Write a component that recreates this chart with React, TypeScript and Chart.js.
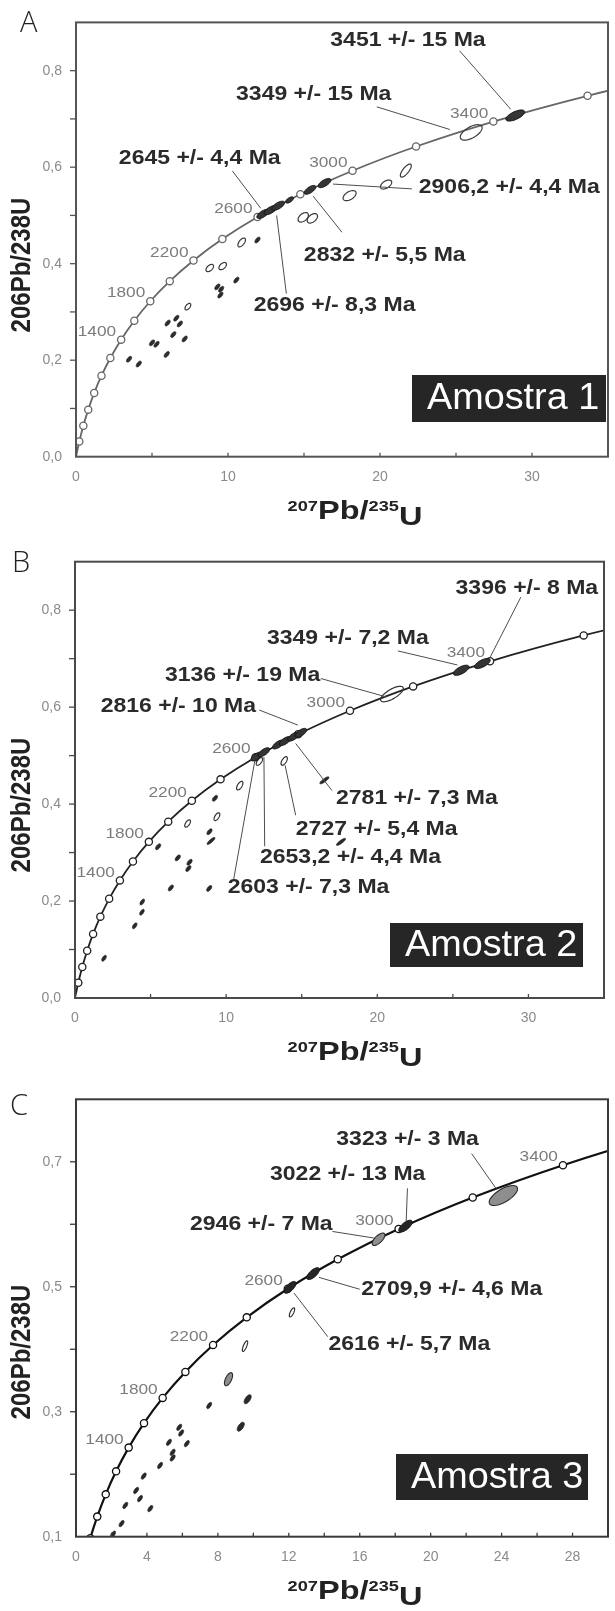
import React, { useEffect, useRef } from "react";
import { Chart, registerables } from "chart.js";

Chart.register(...registerables);

// [207Pb/235U, 206Pb/238U, uncertainty 207/235, uncertainty 206/238, error correlation]
type Ellipse = [number, number, number, number, number];
type XY = [number, number];

// ---------- Concordia reference (age markers every 200 Ma) ----------
const CONCORDIA_AGE_MA = [0, 200, 400, 600, 800, 1000, 1200, 1400, 1600, 1800, 2000, 2200, 2400, 2600, 2800, 3000, 3200, 3400, 3600, 3800];
const CONCORDIA_PB207_U235 = [0, 0.2177, 0.4828, 0.8057, 1.1988, 1.6774, 2.2601, 2.9701, 3.8344, 4.8869, 6.1685, 7.7292, 9.6296, 11.9437, 14.7617, 18.1931, 22.3716, 27.4597, 33.6556, 41.2004];
const CONCORDIA_PB206_U238 = [0, 0.03151, 0.06402, 0.09754, 0.13213, 0.1678, 0.2046, 0.24256, 0.28172, 0.3221, 0.36377, 0.40674, 0.45107, 0.49679, 0.54396, 0.59261, 0.6428, 0.69456, 0.74796, 0.80304];
const LABELLED_AGES_MA = [1400, 1800, 2200, 2600, 3000, 3400];

// ---------- Tick labels ----------
const AB_X_TICK_LABELS = [0, 10, 20, 30];
const AB_Y_TICK_LABELS = [0, 0.2, 0.4, 0.6, 0.8];
const C_X_TICK_LABELS = [0, 4, 8, 12, 16, 20, 24, 28];
const C_Y_TICK_LABELS = [0.1, 0.3, 0.5, 0.7];

// ---------- Amostra 1 ----------
const A_CONCORDANT: Ellipse[] = [
  [12.3, 0.503, 0.4, 0.0095, 0.65],
  [12.8, 0.511, 0.42, 0.0095, 0.65],
  [13.3, 0.52, 0.42, 0.0095, 0.65],
  [14.05, 0.532, 0.26, 0.0065, 0.6],
  [15.4, 0.553, 0.38, 0.0092, 0.65],
  [16.35, 0.567, 0.42, 0.0095, 0.65],
  [28.9, 0.707, 0.62, 0.0115, 0.65],
];
const A_OPEN: Ellipse[] = [
  [8.8, 0.391, 0.25, 0.0075, 0.5],
  [9.65, 0.395, 0.25, 0.0075, 0.5],
  [10.9, 0.444, 0.25, 0.0092, 0.6],
  [7.36, 0.311, 0.19, 0.0068, 0.55],
  [14.95, 0.496, 0.34, 0.0098, 0.46],
  [15.55, 0.494, 0.34, 0.0098, 0.46],
  [18.0, 0.541, 0.43, 0.0105, 0.5],
  [20.4, 0.564, 0.37, 0.0093, 0.5],
  [21.7, 0.593, 0.36, 0.0135, 0.75],
  [26.0, 0.672, 0.72, 0.016, 0.6],
];
const A_SMALL: Ellipse[] = [
  [3.49, 0.202, 0.17, 0.006, 0.6],
  [4.13, 0.192, 0.17, 0.006, 0.6],
  [5.0, 0.236, 0.17, 0.006, 0.6],
  [5.3, 0.233, 0.17, 0.006, 0.6],
  [5.97, 0.212, 0.17, 0.006, 0.6],
  [6.03, 0.277, 0.17, 0.006, 0.6],
  [6.6, 0.287, 0.17, 0.006, 0.6],
  [6.83, 0.275, 0.17, 0.006, 0.6],
  [6.4, 0.253, 0.17, 0.006, 0.6],
  [7.15, 0.244, 0.17, 0.006, 0.6],
  [9.3, 0.352, 0.17, 0.006, 0.6],
  [9.55, 0.347, 0.17, 0.006, 0.6],
  [9.5, 0.335, 0.17, 0.006, 0.6],
  [10.55, 0.366, 0.17, 0.006, 0.6],
  [11.94, 0.449, 0.17, 0.006, 0.6],
];
const A_AGE_TEXT = ["3451 +/- 15 Ma", "3349 +/- 15 Ma", "2645 +/- 4,4 Ma", "2906,2 +/- 4,4 Ma", "2832 +/- 5,5 Ma", "2696 +/- 8,3 Ma"];

// ---------- Amostra 2 ----------
const B_CONCORDANT: Ellipse[] = [
  [12.0, 0.498, 0.36, 0.009, 0.65],
  [12.5, 0.507, 0.38, 0.0092, 0.65],
  [13.45, 0.523, 0.38, 0.0092, 0.65],
  [13.9, 0.53, 0.38, 0.0092, 0.65],
  [14.45, 0.539, 0.38, 0.0092, 0.65],
  [14.95, 0.547, 0.38, 0.0092, 0.65],
  [25.55, 0.676, 0.52, 0.0105, 0.65],
  [26.95, 0.69, 0.52, 0.0105, 0.65],
];
const B_OPEN: Ellipse[] = [
  [20.97, 0.627, 0.75, 0.016, 0.72],
  [13.84, 0.489, 0.21, 0.0088, 0.6],
  [12.2, 0.488, 0.21, 0.008, 0.6],
  [10.9, 0.438, 0.21, 0.0088, 0.6],
  [9.39, 0.374, 0.19, 0.008, 0.6],
  [7.45, 0.36, 0.19, 0.0075, 0.6],
];
const B_SMALL: Ellipse[] = [
  [9.26, 0.412, 0.17, 0.006, 0.6],
  [8.9, 0.343, 0.17, 0.006, 0.6],
  [9.0, 0.324, 0.26, 0.0072, 0.85],
  [5.5, 0.312, 0.17, 0.006, 0.6],
  [6.8, 0.289, 0.17, 0.006, 0.6],
  [7.58, 0.28, 0.17, 0.006, 0.6],
  [7.5, 0.267, 0.17, 0.006, 0.6],
  [6.34, 0.227, 0.17, 0.006, 0.6],
  [8.88, 0.226, 0.17, 0.006, 0.6],
  [4.45, 0.198, 0.15, 0.006, 0.6],
  [4.43, 0.177, 0.15, 0.006, 0.6],
  [3.95, 0.149, 0.15, 0.006, 0.6],
  [1.92, 0.082, 0.15, 0.006, 0.6],
  [17.6, 0.322, 0.3, 0.0072, 0.85],
  [16.5, 0.449, 0.3, 0.0072, 0.85],
];
const B_AGE_TEXT = ["3396 +/- 8 Ma", "3349 +/- 7,2 Ma", "3136 +/- 19 Ma", "2816 +/- 10 Ma", "2781 +/- 7,3 Ma", "2727 +/- 5,4 Ma", "2653,2 +/- 4,4 Ma", "2603 +/- 7,3 Ma"];

// ---------- Amostra 3 ----------
const C_DARK: Ellipse[] = [
  [18.58, 0.597, 0.38, 0.0095, 0.68],
  [13.37, 0.521, 0.36, 0.0095, 0.68],
  [12.07, 0.499, 0.34, 0.0095, 0.68],
];
const C_GRAY: Ellipse[] = [
  [24.1, 0.646, 0.8, 0.016, 0.67],
  [17.06, 0.576, 0.36, 0.01, 0.68],
  [8.6, 0.352, 0.23, 0.0105, 0.6],
];
const C_OPEN: Ellipse[] = [
  [12.18, 0.459, 0.15, 0.0072, 0.7],
  [9.53, 0.405, 0.15, 0.0085, 0.75],
];
const C_SMALL: Ellipse[] = [
  [9.68, 0.32, 0.2, 0.0072, 0.6],
  [7.51, 0.31, 0.14, 0.005, 0.6],
  [9.29, 0.276, 0.2, 0.0072, 0.6],
  [5.82, 0.275, 0.14, 0.005, 0.6],
  [5.93, 0.266, 0.14, 0.005, 0.6],
  [5.24, 0.251, 0.14, 0.005, 0.6],
  [6.25, 0.249, 0.14, 0.005, 0.6],
  [5.45, 0.235, 0.14, 0.005, 0.6],
  [5.45, 0.226, 0.14, 0.005, 0.6],
  [4.74, 0.214, 0.14, 0.005, 0.6],
  [3.82, 0.197, 0.14, 0.005, 0.6],
  [3.39, 0.174, 0.14, 0.005, 0.6],
  [3.61, 0.161, 0.14, 0.005, 0.6],
  [2.78, 0.15, 0.14, 0.005, 0.6],
  [4.19, 0.145, 0.14, 0.005, 0.6],
  [2.57, 0.121, 0.14, 0.005, 0.6],
  [2.09, 0.104, 0.14, 0.005, 0.6],
];
const C_AGE_TEXT = ["3323 +/- 3 Ma", "3022 +/- 13 Ma", "2946 +/- 7 Ma", "2709,9 +/- 4,6 Ma", "2616 +/- 5,7 Ma"];

// ---------- Layout (positions are in data units so they go through the scales) ----------
interface LabelLayout { at: XY; from: XY; to: XY }
const A_LABEL_LAYOUT: LabelLayout[] = [
  { at: [16.73, 0.863], from: [25.24, 0.841], to: [28.6, 0.72] },
  { at: [10.53, 0.75], from: [19.79, 0.725], to: [24.6, 0.678] },
  { at: [2.82, 0.617], from: [10.29, 0.592], to: [12.15, 0.515] },
  { at: [22.55, 0.557], from: [16.9, 0.565], to: [22.1, 0.555] },
  { at: [14.99, 0.418], from: [17.5, 0.465], to: [15.6, 0.54] },
  { at: [11.69, 0.313], from: [13.84, 0.338], to: [13.2, 0.5] },
];
const B_LABEL_LAYOUT: LabelLayout[] = [
  { at: [25.18, 0.845], from: [29.5, 0.827], to: [27.42, 0.7] },
  { at: [12.7, 0.742], from: [21.36, 0.716], to: [25.3, 0.687] },
  { at: [5.95, 0.666], from: [16.27, 0.659], to: [20.6, 0.621] },
  { at: [1.7, 0.602], from: [12.19, 0.594], to: [14.74, 0.563] },
  { at: [17.27, 0.412], from: [17.0, 0.428], to: [14.6, 0.525] },
  { at: [14.61, 0.348], from: [14.6, 0.377], to: [13.9, 0.48] },
  { at: [12.24, 0.289], from: [12.55, 0.313], to: [12.5, 0.497] },
  { at: [10.1, 0.227], from: [10.5, 0.245], to: [11.9, 0.49] },
];
const C_LABEL_LAYOUT: LabelLayout[] = [
  { at: [14.68, 0.735], from: [22.31, 0.713], to: [23.68, 0.6575] },
  { at: [10.94, 0.679], from: [18.69, 0.6575], to: [18.62, 0.605] },
  { at: [6.43, 0.6], from: [14.46, 0.5885], to: [16.8, 0.578] },
  { at: [16.09, 0.496], from: [16.0, 0.496], to: [13.7, 0.515] },
  { at: [14.24, 0.407], from: [14.2, 0.42], to: [12.29, 0.49] },
];

const SANS = '"Liberation Sans", Arial, Helvetica, sans-serif';
const STRETCH = 1.15;

interface Group { data: Ellipse[]; fill: string | null; stroke: string; width: number }
interface PanelSpec {
  key: string;
  top: number; width: number; height: number;
  area: { left: number; top: number; right: number; bottom: number };
  x: { min: number; max: number; step: number };
  y: { min: number; max: number; step: number };
  xTicks: number[]; yTicks: number[];
  curveColor: string; curveWidth: number; frameColor: string;
  groups: Group[];
  texts: string[]; layout: LabelLayout[];
  sample: string; box: { x: number; y: number; w: number; h: number };
  letterPos: XY; yTitleCenter: XY;
}

const PANELS: PanelSpec[] = [
  {
    key: "A", top: 0, width: 620, height: 530,
    area: { left: 76, top: 18, right: 617.8, bottom: 456.7 },
    x: { min: 0, max: 35, step: 5 }, y: { min: 0, max: 0.9, step: 0.1 },
    xTicks: AB_X_TICK_LABELS, yTicks: AB_Y_TICK_LABELS,
    curveColor: "#666", curveWidth: 1.8, frameColor: "#555",
    groups: [
      { data: A_OPEN, fill: null, stroke: "#3a3a3a", width: 1.2 },
      { data: A_SMALL, fill: "#2e2e2e", stroke: "#222", width: 0.8 },
      { data: A_CONCORDANT, fill: "#353535", stroke: "#111", width: 1 },
    ],
    texts: A_AGE_TEXT, layout: A_LABEL_LAYOUT,
    sample: "Amostra 1", box: { x: 412, y: 375, w: 194, h: 47 },
    letterPos: [20, 32], yTitleCenter: [22, 265],
  },
  {
    key: "B", top: 530, width: 616, height: 540,
    area: { left: 75, top: 31.7, right: 614, bottom: 468 },
    x: { min: 0, max: 35, step: 5 }, y: { min: 0, max: 0.9, step: 0.1 },
    xTicks: AB_X_TICK_LABELS, yTicks: AB_Y_TICK_LABELS,
    curveColor: "#222", curveWidth: 1.8, frameColor: "#4a4a4a",
    groups: [
      { data: B_OPEN, fill: null, stroke: "#333", width: 1.2 },
      { data: B_SMALL, fill: "#2a2a2a", stroke: "#222", width: 0.8 },
      { data: B_CONCORDANT, fill: "#333", stroke: "#111", width: 1 },
    ],
    texts: B_AGE_TEXT, layout: B_LABEL_LAYOUT,
    sample: "Amostra 2", box: { x: 390, y: 393, w: 193, h: 44 },
    letterPos: [12, 41.7], yTitleCenter: [22, 275],
  },
  {
    key: "C", top: 1070, width: 620, height: 541,
    area: { left: 76, top: 29.3, right: 618.1, bottom: 466.7 },
    x: { min: 0, max: 30, step: 2 }, y: { min: 0.1, max: 0.8, step: 0.1 },
    xTicks: C_X_TICK_LABELS, yTicks: C_Y_TICK_LABELS,
    curveColor: "#111", curveWidth: 2.2, frameColor: "#3a3a3a",
    groups: [
      { data: C_OPEN, fill: null, stroke: "#333", width: 1.2 },
      { data: C_SMALL, fill: "#2a2a2a", stroke: "#222", width: 0.8 },
      { data: C_GRAY, fill: "#8e8e8e", stroke: "#2a2a2a", width: 1.1 },
      { data: C_DARK, fill: "#262626", stroke: "#111", width: 1 },
    ],
    texts: C_AGE_TEXT, layout: C_LABEL_LAYOUT,
    sample: "Amostra 3", box: { x: 396, y: 384, w: 192, h: 46 },
    letterPos: [10, 45], yTitleCenter: [22, 282],
  },
];

function stretchedText(ctx: CanvasRenderingContext2D, text: string, x: number, y: number, s: number, align: CanvasTextAlign) {
  ctx.save();
  ctx.translate(x, y);
  ctx.scale(s, 1);
  ctx.textAlign = align;
  ctx.fillText(text, 0, 0);
  ctx.restore();
}

function makeDecor(p: PanelSpec) {
  return {
    id: "decor" + p.key,
    afterDatasetsDraw(chart: any) {
      const ctx: CanvasRenderingContext2D = chart.ctx;
      const a = chart.chartArea;
      const xs = chart.scales.x;
      const ys = chart.scales.y;
      const X = (v: number) => xs.getPixelForValue(v);
      const Y = (v: number) => ys.getPixelForValue(v);

      ctx.save();
      ctx.beginPath();
      ctx.rect(a.left, a.top, a.right - a.left, a.bottom - a.top);
      ctx.clip();
      // error ellipses
      for (const g of p.groups) {
        for (const e of g.data) {
          const [cx, cy, sx, sy, rho] = e;
          const k = Math.sqrt(1 - rho * rho);
          ctx.beginPath();
          for (let i = 0; i <= 48; i++) {
            const t = (i / 48) * Math.PI * 2;
            const px = X(cx + sx * Math.cos(t));
            const py = Y(cy + sy * (rho * Math.cos(t) + k * Math.sin(t)));
            if (i === 0) ctx.moveTo(px, py);
            else ctx.lineTo(px, py);
          }
          ctx.closePath();
          if (g.fill) {
            ctx.fillStyle = g.fill;
            ctx.fill();
          }
          ctx.strokeStyle = g.stroke;
          ctx.lineWidth = g.width;
          ctx.stroke();
        }
      }
      // leader lines
      ctx.strokeStyle = "#4d4d4d";
      ctx.lineWidth = 1;
      for (const l of p.layout) {
        ctx.beginPath();
        ctx.moveTo(X(l.from[0]), Y(l.from[1]));
        ctx.lineTo(X(l.to[0]), Y(l.to[1]));
        ctx.stroke();
      }
      ctx.restore();

      // concordia age labels
      ctx.save();
      ctx.fillStyle = "#7c7c7c";
      ctx.font = `15px ${SANS}`;
      ctx.textBaseline = "middle";
      for (const age of LABELLED_AGES_MA) {
        const i = CONCORDIA_AGE_MA.indexOf(age);
        const px = X(CONCORDIA_PB207_U235[i]);
        const py = Y(CONCORDIA_PB206_U238[i]);
        stretchedText(ctx, String(age), px - 5, py - 8, STRETCH, "right");
      }
      // age annotations
      ctx.fillStyle = "#2b2b2b";
      ctx.font = `bold 20px ${SANS}`;
      p.texts.forEach((t, i) => {
        const l = p.layout[i];
        stretchedText(ctx, t, X(l.at[0]), Y(l.at[1]), STRETCH, "left");
      });
      // sample box
      ctx.fillStyle = "#262626";
      ctx.fillRect(p.box.x, p.box.y, p.box.w, p.box.h);
      ctx.fillStyle = "#ffffff";
      ctx.font = `36px ${SANS}`;
      ctx.textBaseline = "middle";
      stretchedText(ctx, p.sample, p.box.x + 15, p.box.y + p.box.h / 2 + 1, 1.05, "left");
      // frame & ticks
      ctx.strokeStyle = p.frameColor;
      ctx.lineWidth = 2;
      ctx.strokeRect(a.left, a.top, a.right - a.left, a.bottom - a.top);
      ctx.lineWidth = 1.3;
      for (const t of xs.ticks) {
        if (t.value <= p.x.min + 1e-9 || t.value >= p.x.max - 1e-9) continue;
        const px = X(t.value);
        ctx.beginPath();
        ctx.moveTo(px, a.bottom);
        ctx.lineTo(px, a.bottom - 4);
        ctx.stroke();
      }
      for (const t of ys.ticks) {
        if (t.value <= p.y.min + 1e-9 || t.value >= p.y.max - 1e-9) continue;
        const py = Y(t.value);
        ctx.beginPath();
        ctx.moveTo(a.left - 6, py);
        ctx.lineTo(a.left, py);
        ctx.stroke();
      }
      ctx.restore();
    },
    afterDraw(chart: any) {
      const ctx: CanvasRenderingContext2D = chart.ctx;
      const a = chart.chartArea;
      ctx.save();
      // panel letter
      ctx.fillStyle = "#222";
      ctx.font = `300 29px "Open Sans", ${SANS}`;
      ctx.textBaseline = "alphabetic";
      ctx.textAlign = "left";
      ctx.fillText(p.key, p.letterPos[0], p.letterPos[1]);
      // y title
      ctx.fillStyle = "#222";
      ctx.font = `bold 24px ${SANS}`;
      ctx.save();
      ctx.translate(p.yTitleCenter[0], p.yTitleCenter[1]);
      ctx.scale(STRETCH, 1);
      ctx.rotate(-Math.PI / 2);
      ctx.textAlign = "center";
      ctx.textBaseline = "middle";
      ctx.fillText("206Pb/238U", 0, 0);
      ctx.restore();
      // x title with raised mass numbers
      const base = a.bottom + 62;
      const s = 1.3;
      const parts = [
        { t: "207", font: `bold 14px ${SANS}`, dy: -7.9 },
        { t: "Pb/", font: `bold 25px ${SANS}`, dy: 0 },
        { t: "235", font: `bold 14px ${SANS}`, dy: -7.9 },
        { t: "U", font: `bold 25px ${SANS}`, dy: 6 },
      ];
      const widths = parts.map((q) => {
        ctx.font = q.font;
        return ctx.measureText(q.t).width * s;
      });
      const total = widths.reduce((m, w) => m + w, 0);
      let x = 355 - total / 2;
      ctx.textBaseline = "alphabetic";
      parts.forEach((q, i) => {
        ctx.font = q.font;
        stretchedText(ctx, q.t, x, base + q.dy, s, "left");
        x += widths[i];
      });
      ctx.restore();
    },
  };
}

function buildConfig(p: PanelSpec): any {
  const near = (list: number[], v: number) => list.some((t) => Math.abs(t - v) < 1e-6);
  const curve = CONCORDIA_PB207_U235.map((x, i) => ({ x, y: CONCORDIA_PB206_U238[i] }));
  const markers = curve.filter((_, i) => CONCORDIA_AGE_MA[i] > 0);
  const tickFont = { family: SANS, size: 14 };
  return {
    type: "scatter",
    data: {
      datasets: [
        {
          label: "ages", data: markers, order: 1, showLine: false,
          pointRadius: 3.6, pointBackgroundColor: "#ffffff", pointBorderColor: p.curveColor, pointBorderWidth: 1.3,
        },
        {
          label: "concordia", data: curve, order: 2, showLine: true, pointRadius: 0,
          borderColor: p.curveColor, borderWidth: p.curveWidth, cubicInterpolationMode: "monotone", fill: false,
        },
        ...p.groups.map((g, k) => ({
          label: "spots" + k, data: g.data.map((e) => ({ x: e[0], y: e[1] })), pointRadius: 0, showLine: false, order: 3,
        })),
      ],
    },
    options: {
      responsive: false,
      animation: false,
      events: [],
      layout: { padding: { left: 0, top: p.area.top, right: p.width - p.area.right, bottom: 0 } },
      plugins: { legend: { display: false }, tooltip: { enabled: false }, title: { display: false } },
      scales: {
        x: {
          type: "linear", position: "bottom", min: p.x.min, max: p.x.max,
          afterFit: (sc: any) => { sc.height = p.height - p.area.bottom; },
          grid: { display: false, drawTicks: false }, border: { display: false },
          ticks: {
            stepSize: p.x.step, autoSkip: false, maxRotation: 0, minRotation: 0, padding: 12,
            color: "#8a8a8a", font: tickFont,
            callback: (v: any) => (near(p.xTicks, Number(v)) ? String(Math.round(Number(v))) : ""),
          },
        },
        y: {
          type: "linear", position: "left", min: p.y.min, max: p.y.max,
          afterFit: (sc: any) => { sc.width = p.area.left; },
          grid: { display: false, drawTicks: false }, border: { display: false },
          ticks: {
            stepSize: p.y.step, autoSkip: false, padding: 14, color: "#8a8a8a", font: tickFont,
            callback: (v: any) => (near(p.yTicks, Number(v)) ? Number(v).toFixed(1).replace(".", ",") : ""),
          },
        },
      },
    },
    plugins: [makeDecor(p)],
  };
}

function Panel({ spec }: { spec: PanelSpec }) {
  const ref = useRef<HTMLCanvasElement>(null);
  useEffect(() => {
    if (!ref.current) return;
    const chart = new Chart(ref.current, buildConfig(spec));
    return () => chart.destroy();
  }, [spec]);
  return (
    <canvas
      ref={ref}
      width={spec.width}
      height={spec.height}
      style={{ position: "absolute", left: 0, top: spec.top, width: spec.width, height: spec.height }}
    />
  );
}

export default function App() {
  return (
    <div style={{ position: "absolute", left: 0, top: 0, width: 615, height: 1611, overflow: "hidden", background: "#ffffff" }}>
      {PANELS.map((p) => (
        <Panel key={p.key} spec={p} />
      ))}
    </div>
  );
}
